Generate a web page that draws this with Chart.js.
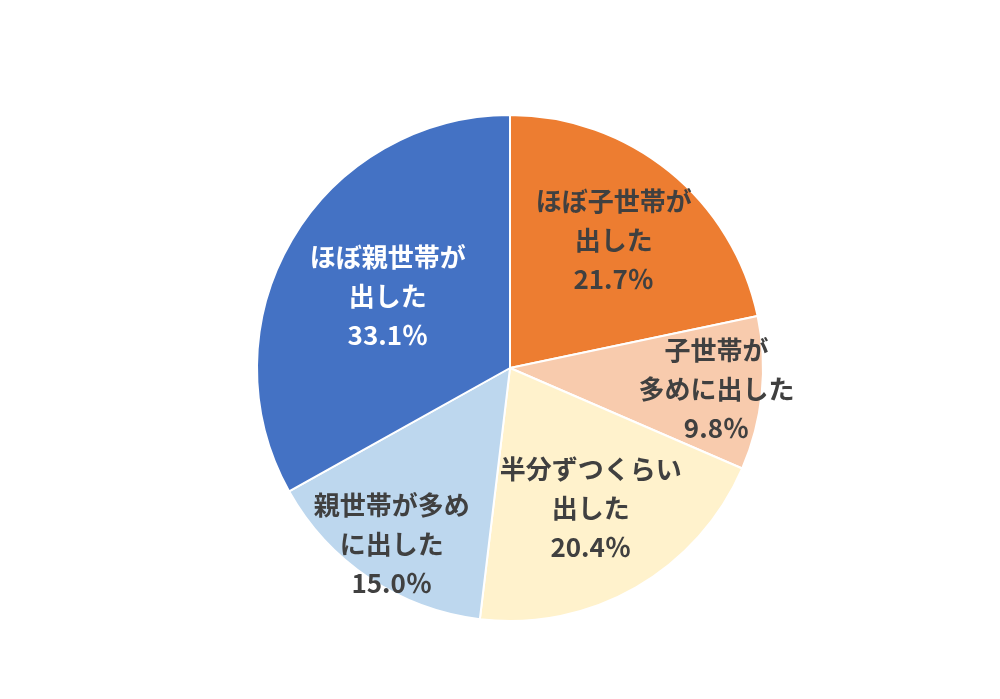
<!DOCTYPE html>
<html>
<head>
<meta charset="utf-8">
<script src="https://cdn.jsdelivr.net/npm/chart.js@4/dist/chart.umd.min.js"></script>
<style>
  html, body { margin: 0; padding: 0; background: #fff; }
  #wrap { width: 1000px; height: 699px; }
</style>
</head>
<body>
<div id="wrap"><canvas id="pieCanvas"></canvas></div>
<script>
const categories = [
    ['ほぼ子世帯が', '出した'],
    ['子世帯が', '多めに出した'],
    ['半分ずつくらい', '出した'],
    ['親世帯が多め', 'に出した'],
    ['ほぼ親世帯が', '出した']
];
const shares = [21.7, 9.8, 20.4, 15.0, 33.1];
const sliceColors = ['#ED7D31', '#F8CBAD', '#FFF2CC', '#BDD7EE', '#4472C4'];
const labelColors = ['#404040', '#404040', '#404040', '#404040', '#FFFFFF'];
// how far out (fraction of radius) each label sits
const labelRadius = [0.65, 0.82, 0.64, 0.84, 0.56];

const sliceLabels = {
    id: 'sliceLabels',
    afterDatasetsDraw(chart) {
        const ctx = chart.ctx;
        const meta = chart.getDatasetMeta(0);
        ctx.save();
        ctx.textAlign = 'center';
        ctx.textBaseline = 'middle';
        ctx.font = 'bold 26px "Noto Sans CJK JP", sans-serif';
        meta.data.forEach((arc, i) => {
            const mid = (arc.startAngle + arc.endAngle) / 2;
            const r = arc.outerRadius * labelRadius[i];
            const x = arc.x + Math.cos(mid) * r;
            const y = arc.y + Math.sin(mid) * r;
            const lines = categories[i].concat([shares[i].toFixed(1) + '％']);
            const lh = 39;
            const top = y - (lines.length - 1) * lh / 2;
            ctx.fillStyle = labelColors[i];
            lines.forEach((t, j) => ctx.fillText(t, x, top + j * lh));
        });
        ctx.restore();
    }
};

document.addEventListener("DOMContentLoaded", () => {
    const ctx = document.getElementById('pieCanvas').getContext('2d');
    new Chart(ctx, {
        type: 'pie',
        data: {
            labels: categories.map(c => c.join('')),
            datasets: [{
                data: shares,
                backgroundColor: sliceColors,
                borderColor: '#FFFFFF',
                borderWidth: 2
            }]
        },
        options: {
            responsive: true,
            maintainAspectRatio: false,
            animation: false,
            layout: { padding: { top: 114, bottom: 77, left: 20, right: 0 } },
            plugins: {
                legend: { display: false },
                tooltip: { enabled: false }
            }
        },
        plugins: [sliceLabels]
    });
});
</script>
</body>
</html>
